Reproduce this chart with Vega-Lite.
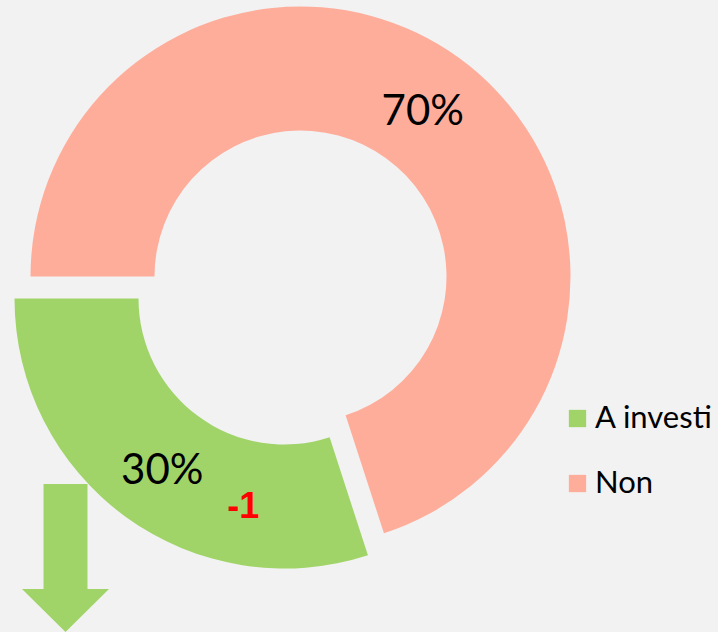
{
  "$schema": "https://vega.github.io/schema/vega-lite/v6.json",
  "width": 601,
  "height": 553,
  "autosize": {"type": "none"},
  "padding": {"left": 0, "top": 0, "right": 117, "bottom": 79},
  "background": "#f2f2f2",
  "config": {"view": {"stroke": null}, "font": "Lato"},
  "data": {
    "values": [
      {"cat": "A investi", "value": 30, "label": "30%", "note": "-1"},
      {"cat": "Non", "value": 70, "label": "70%", "note": ""}
    ]
  },
  "encoding": {
    "theta": {"field": "value", "type": "quantitative", "stack": true, "scale": {"range": [2.82743, 9.11062]}},
    "order": {"field": "cat", "sort": "ascending"}
  },
  "layer": [
    {
      "mark": {"type": "arc", "outerRadius": 270, "innerRadius": 146},
      "encoding": {
        "color": {
          "field": "cat", "type": "nominal",
          "scale": {"domain": ["A investi", "Non"], "range": ["#A0D468", "#FFAD9B"]},
          "legend": {
            "orient": "none", "legendX": 562, "legendY": 403, "title": null, "padding": 0,
            "symbolType": "square", "symbolSize": 300, "symbolStrokeWidth": 0, "symbolOpacity": 1,
            "labelFontSize": 31, "labelFont": "Lato", "labelColor": "#000000", "labelOffset": 2,
            "rowPadding": 33, "labelLimit": 400
          }
        },
        "opacity": {"condition": {"test": "datum.cat === 'Non'", "value": 1}, "value": 0}
      }
    },
    {
      "mark": {"type": "arc", "outerRadius": 270, "innerRadius": 146, "xOffset": -16, "yOffset": 22},
      "encoding": {
        "color": {"field": "cat", "type": "nominal"},
        "opacity": {"condition": {"test": "datum.cat === 'A investi'", "value": 1}, "value": 0}
      }
    },
    {
      "mark": {"type": "text", "radius": 208, "fontSize": 42, "font": "Lato", "color": "#000000", "dy": 4},
      "encoding": {
        "detail": {"field": "cat", "type": "nominal"},
        "text": {"condition": {"test": "datum.cat === 'Non'", "field": "label"}, "value": ""}
      }
    },
    {
      "mark": {"type": "text", "radius": 208, "fontSize": 42, "font": "Lato", "color": "#000000", "xOffset": -16, "yOffset": 22, "dy": 4},
      "encoding": {
        "detail": {"field": "cat", "type": "nominal"},
        "text": {"condition": {"test": "datum.cat === 'A investi'", "field": "label"}, "value": ""}
      }
    },
    {
      "mark": {"type": "text", "radius": 208, "fontSize": 36, "font": "Liberation Sans", "fontWeight": "bold", "color": "#FF0000", "xOffset": 65, "yOffset": 62},
      "encoding": {
        "detail": {"field": "cat", "type": "nominal"},
        "text": {"condition": {"test": "datum.cat === 'A investi'", "field": "note"}, "value": ""}
      }
    },
    {
      "transform": [{"filter": "datum.cat === 'A investi'"}],
      "mark": {
        "type": "point", "filled": true, "opacity": 1, "color": "#A0D468", "size": 21904,
        "shape": "M-0.297,-1 L0.297,-1 L0.297,0.419 L0.588,0.419 L0,1 L-0.588,0.419 L-0.297,0.419 Z",
        "xOffset": -235, "yOffset": 281.5
      },
      "encoding": {"theta": null, "order": null}
    }
  ]
}
